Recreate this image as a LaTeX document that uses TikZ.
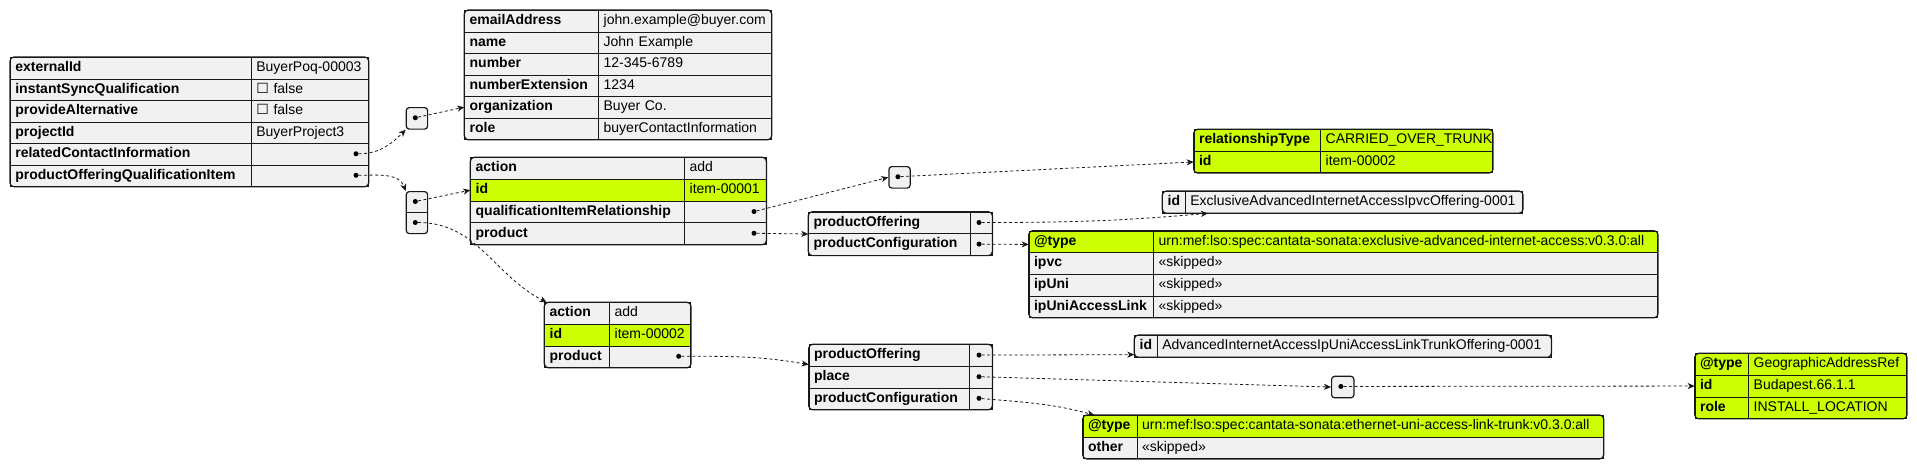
\documentclass[tikz,border=0pt]{standalone}
\usepackage{fontspec}
\setmainfont{Liberation Sans}
\newfontfamily\boxfont{DejaVu Sans}
\usetikzlibrary{arrows.meta}
\definecolor{cellgray}{HTML}{F1F1F1}
\definecolor{keygreen}{HTML}{CCFF02}
\definecolor{lineblack}{HTML}{181818}
\tikzset{
  cell/.style={draw=lineblack, line width=0.7pt, fill=cellgray, anchor=north west,
    minimum height=21.6pt, inner xsep=5pt, inner ysep=0pt, align=left,
    text height=10pt, text depth=3pt, font=\fontsize{14}{16}\selectfont},
  key/.style={cell, font=\fontsize{14}{16}\selectfont\bfseries},
  hl/.style={fill=keygreen},
  frame/.style={draw=lineblack, line width=1.2pt, rounded corners=4pt},
  stub/.style={draw=lineblack, line width=1.2pt, fill=cellgray, rounded corners=3pt,
    anchor=north west, minimum width=21.3pt, minimum height=21.5pt, inner sep=0pt},
  dot/.style={circle, fill=black, inner sep=0pt, minimum size=5pt},
  link/.style={-{Stealth[length=7pt, width=6pt, inset=2pt]}, dash pattern=on 3pt off 2.5pt,
    line width=0.8pt, draw=lineblack},
}
\begin{document}
\begin{tikzpicture}[x=1pt, y=-1pt]
\useasboundingbox (0,0) rectangle (1917,469);

% root
\node[key, text width=231pt] (m1k) at (10,57) {externalId};
\node[cell, text width=107pt] (m1v) at (251,57) {BuyerPoq-00003};
\node[key, text width=231pt] (m2k) at (10,78.5) {instantSyncQualification};
\node[cell, text width=107pt] (m2v) at (251,78.5) {{\boxfont ☐} false};
\node[key, text width=231pt] (m3k) at (10,100) {provideAlternative};
\node[cell, text width=107pt] (m3v) at (251,100) {{\boxfont ☐} false};
\node[key, text width=231pt] (m4k) at (10,121.5) {projectId};
\node[cell, text width=107pt] (m4v) at (251,121.5) {BuyerProject3};
\node[key, text width=231pt] (m5k) at (10,143) {relatedContactInformation};
\node[cell, text width=107pt] (m5v) at (251,143) {};
\node[key, text width=231pt] (m6k) at (10,164.5) {productOfferingQualificationItem};
\node[cell, text width=107pt] (m6v) at (251,164.5) {};
\draw[frame] (m1k.north west) rectangle (m6v.south east);
\node[dot] (m5d) at (356,153.75) {};
\node[dot] (m6d) at (356,175.25) {};

% relatedContactInformation
\node[stub] (b1) at (405.7,107) {};
\node[dot] (b1d) at (415.3,117.75) {};
\node[key, text width=124pt] (c1k) at (464.3,10) {emailAddress};
\node[cell, text width=162.7pt] (c1v) at (598.3,10) {john.example@buyer.com};
\node[key, text width=124pt] (c2k) at (464.3,31.5) {name};
\node[cell, text width=162.7pt] (c2v) at (598.3,31.5) {John Example};
\node[key, text width=124pt] (c3k) at (464.3,53) {number};
\node[cell, text width=162.7pt] (c3v) at (598.3,53) {12-345-6789};
\node[key, text width=124pt] (c4k) at (464.3,74.5) {numberExtension};
\node[cell, text width=162.7pt] (c4v) at (598.3,74.5) {1234};
\node[key, text width=124pt] (c5k) at (464.3,96) {organization};
\node[cell, text width=162.7pt] (c5v) at (598.3,96) {Buyer Co.};
\node[key, text width=124pt] (c6k) at (464.3,117.5) {role};
\node[cell, text width=162.7pt] (c6v) at (598.3,117.5) {buyerContactInformation};
\draw[frame] (c1k.north west) rectangle (c6v.south east);

% productOfferingQualificationItem
\node[stub, minimum height=42pt] (arr) at (405.7,191) {};
\draw[draw=lineblack, line width=0.9pt] (arr.west) -- (arr.east);
\node[dot] (ar1d) at (415.3,201.5) {};
\node[dot] (ar2d) at (415.3,222.5) {};

\node[key, text width=204pt] (i1k) at (470.3,157.3) {action};
\node[cell, text width=71.4pt] (i1v) at (684.3,157.3) {add};
\node[key, hl, text width=204pt] (i2k) at (470.3,179) {id};
\node[cell, hl, text width=71.4pt] (i2v) at (684.3,179) {item-00001};
\node[key, text width=204pt] (i3k) at (470.3,200.7) {qualificationItemRelationship};
\node[cell, text width=71.4pt] (i3v) at (684.3,200.7) {};
\node[key, text width=204pt] (i4k) at (470.3,222.4) {product};
\node[cell, text width=71.4pt] (i4v) at (684.3,222.4) {};
\draw[frame] (i1k.north west) rectangle (i4v.south east);
\node[dot] (i3d) at (754,211.55) {};
\node[dot] (i4d) at (754,233.25) {};

\node[stub] (b2) at (888.3,166) {};
\node[dot] (b2d) at (897.9,176.75) {};
\node[key, hl, text width=116.6pt] (r1k) at (1193.7,129.3) {relationshipType};
\node[cell, hl, text width=162pt] (r1v) at (1320.3,129.3) {CARRIED\_OVER\_TRUNK};
\node[key, hl, text width=116.6pt] (r2k) at (1193.7,150.8) {id};
\node[cell, hl, text width=162pt] (r2v) at (1320.3,150.8) {item-00002};
\draw[frame] (r1k.north west) rectangle (r2v.south east);

\node[key, text width=151.4pt] (p1k) at (808.3,211.7) {productOffering};
\node[cell, text width=12pt] (p1v) at (969.7,211.7) {};
\node[key, text width=151.4pt] (p2k) at (808.3,233.3) {productConfiguration};
\node[cell, text width=12pt] (p2v) at (969.7,233.3) {};
\draw[frame] (p1k.north west) rectangle (p2v.south east);
\node[dot] (p1d) at (979,222.5) {};
\node[dot] (p2d) at (979,244.1) {};

\node[key, text width=12.7pt] (x1k) at (1162.3,191) {id};
\node[cell, text width=327.3pt] (x1v) at (1185,191) {ExclusiveAdvancedInternetAccessIpvcOffering-0001};
\draw[frame] (x1k.north west) rectangle (x1v.south east);

\node[key, hl, text width=114.6pt] (t1k) at (1028.7,230.7) {@type};
\node[cell, hl, text width=494pt] (t1v) at (1153.3,230.7) {urn:mef:lso:spec:cantata-sonata:exclusive-advanced-internet-access:v0.3.0:all};
\node[key, text width=114.6pt] (t2k) at (1028.7,252.3) {ipvc};
\node[cell, text width=494pt] (t2v) at (1153.3,252.3) {«skipped»};
\node[key, text width=114.6pt] (t3k) at (1028.7,273.9) {ipUni};
\node[cell, text width=494pt] (t3v) at (1153.3,273.9) {«skipped»};
\node[key, text width=114.6pt] (t4k) at (1028.7,295.5) {ipUniAccessLink};
\node[cell, text width=494pt] (t4v) at (1153.3,295.5) {«skipped»};
\draw[frame] (t1k.north west) rectangle (t4v.south east);

% second item
\node[key, text width=55pt] (j1k) at (544.3,302.3) {action};
\node[cell, text width=71pt] (j1v) at (609.3,302.3) {add};
\node[key, hl, text width=55pt] (j2k) at (544.3,323.9) {id};
\node[cell, hl, text width=71pt] (j2v) at (609.3,323.9) {item-00002};
\node[key, text width=55pt] (j3k) at (544.3,345.5) {product};
\node[cell, text width=71pt] (j3v) at (609.3,345.5) {};
\draw[frame] (j1k.north west) rectangle (j3v.south east);
\node[dot] (j3d) at (678.7,356.3) {};

\node[key, text width=150.6pt] (q1k) at (808.7,344.3) {productOffering};
\node[cell, text width=12.4pt] (q1v) at (969.3,344.3) {};
\node[key, text width=150.6pt] (q2k) at (808.7,365.9) {place};
\node[cell, text width=12.4pt] (q2v) at (969.3,365.9) {};
\node[key, text width=150.6pt] (q3k) at (808.7,387.5) {productConfiguration};
\node[cell, text width=12.4pt] (q3v) at (969.3,387.5) {};
\draw[frame] (q1k.north west) rectangle (q3v.south east);
\node[dot] (q1d) at (979,355.1) {};
\node[dot] (q2d) at (979,376.7) {};
\node[dot] (q3d) at (979,398.3) {};

\node[key, text width=12.7pt] (a1k) at (1134.3,335) {id};
\node[cell, text width=383.7pt] (a1v) at (1157,335) {AdvancedInternetAccessIpUniAccessLinkTrunkOffering-0001};
\draw[frame] (a1k.north west) rectangle (a1v.south east);

\node[stub, minimum width=22.3pt] (b3) at (1331,375.7) {};
\node[dot] (b3d) at (1340.9,386.45) {};
\node[key, hl, text width=43.6pt] (g1k) at (1694.7,353.3) {@type};
\node[cell, hl, text width=148pt] (g1v) at (1748.3,353.3) {GeographicAddressRef};
\node[key, hl, text width=43.6pt] (g2k) at (1694.7,374.9) {id};
\node[cell, hl, text width=148pt] (g2v) at (1748.3,374.9) {Budapest.66.1.1};
\node[key, hl, text width=43.6pt] (g3k) at (1694.7,396.5) {role};
\node[cell, hl, text width=148pt] (g3v) at (1748.3,396.5) {INSTALL\_LOCATION};
\draw[frame] (g1k.north west) rectangle (g3v.south east);

\node[key, hl, text width=44pt] (u1k) at (1082.7,415) {@type};
\node[cell, hl, text width=456.3pt] (u1v) at (1136.7,415) {urn:mef:lso:spec:cantata-sonata:ethernet-uni-access-link-trunk:v0.3.0:all};
\node[key, text width=44pt] (u2k) at (1082.7,436.6) {other};
\node[cell, text width=456.3pt] (u2v) at (1136.7,436.6) {«skipped»};
\draw[frame] (u1k.north west) rectangle (u2v.south east);

\draw[link] (m5d) to[out=0, in=-135] (b1.south west);
\draw[link] (m6d) to[out=0, in=110] (arr.north west);
\draw[link] (b1d) -- (c5k.west);
\draw[link] (ar1d) -- (i2k.west);
\draw[link] (ar2d) to[out=0, in=153] ([xshift=2.4pt]j1k.north west);
\draw[link] (i3d) -- (b2.west);
\draw[link] (b2d) -- (r2k.west);
\draw[link] (i4d) -- (p1k.south west);
\draw[link] (p1d) to[out=0, in=185] ([xshift=23pt]x1v.south west);
\draw[link] (p2d) -- ([yshift=-2.6pt]t1k.west);
\draw[link] (j3d) to[out=0, in=170] ([yshift=2pt]q1k.south west);
\draw[link] (q1d) -- ([yshift=-8.5pt]a1k.west);
\draw[link] (q2d) -- (b3.west);
\draw[link] (q3d) to[out=-5, in=165] ([xshift=11.6pt]u1k.north west);
\draw[link] (b3d) -- (g2k.west);
\end{tikzpicture}
\end{document}
